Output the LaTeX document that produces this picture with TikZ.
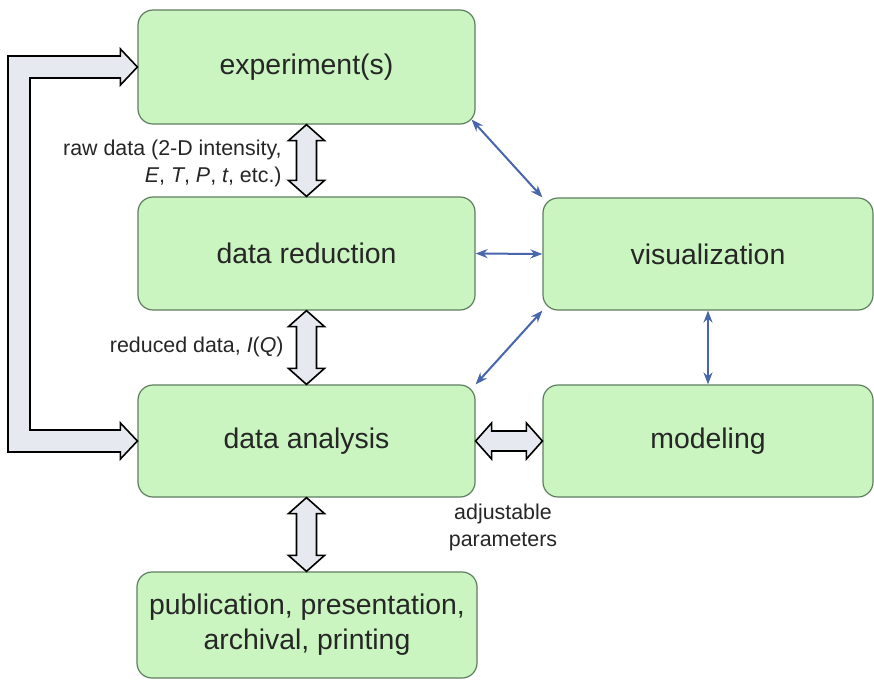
\documentclass[tikz,border=0pt]{standalone}
\usepackage{fontspec}
\setmainfont{Liberation Sans}
\usetikzlibrary{calc,arrows.meta}
\definecolor{boxgreen}{RGB}{202,245,192}
\definecolor{boxline}{RGB}{95,125,95}
\definecolor{linkblue}{RGB}{72,102,172}
\definecolor{blockgray}{RGB}{230,234,240}
\tikzset{
  stage/.style={draw=boxline,fill=boxgreen,rounded corners=7.5pt,line width=0.6pt,
    inner sep=0pt,align=center,text=black!85,font=\fontsize{14.2}{17.5}\selectfont},
  note/.style={font=\fontsize{10.7}{13.5}\selectfont,text=black!85,inner sep=0pt},
  blockarrow/.style={draw=black,fill=blockgray,line width=0.8pt,line join=miter},
  link/.style={draw=linkblue,line width=1pt,{Stealth[length=6pt,width=4.5pt]}-{Stealth[length=6pt,width=4.5pt]}}
}
% vertical double block arrow between two stacked nodes
\newcommand\blockv[2]{%
  \draw[blockarrow] let \p1=(#1.south), \p2=(#2.north) in
    (\x1,\y1) -- (\x1+9pt,\y1-8pt) -- (\x1+5pt,\y1-8pt) -- (\x1+5pt,\y2+8pt)
    -- (\x1+9pt,\y2+8pt) -- (\x1,\y2) -- (\x1-9pt,\y2+8pt) -- (\x1-5pt,\y2+8pt)
    -- (\x1-5pt,\y1-8pt) -- (\x1-9pt,\y1-8pt) -- cycle;}
% horizontal double block arrow between two nodes side by side
\newcommand\blockh[2]{%
  \draw[blockarrow] let \p1=(#1.east), \p2=(#2.west) in
    (\x1,\y1) -- (\x1+8pt,\y1+9pt) -- (\x1+8pt,\y1+5pt) -- (\x2-8pt,\y1+5pt)
    -- (\x2-8pt,\y1+9pt) -- (\x2,\y1) -- (\x2-8pt,\y1-9pt) -- (\x2-8pt,\y1-5pt)
    -- (\x1+8pt,\y1-5pt) -- (\x1+8pt,\y1-9pt) -- cycle;}
\begin{document}
\begin{tikzpicture}[x=0.5pt,y=-0.5pt]
\useasboundingbox[fill=white] (0,0) rectangle (874,682);
\node[stage,minimum width=168.5pt,minimum height=57pt] (exp) at (306.5,67) {experiment(s)};
\node[stage,minimum width=168.5pt,minimum height=56.5pt] (red) at (306.5,253.5) {data reduction};
\node[stage,minimum width=168.5pt,minimum height=56pt] (ana) at (306.5,441) {data analysis};
\node[stage,minimum width=170pt,minimum height=53pt] (pub) at (307,625) {publication, presentation,\\archival, printing};
\node[stage,minimum width=165pt,minimum height=56pt] (vis) at (708,254) {visualization};
\node[stage,minimum width=165pt,minimum height=56pt] (mod) at (708,441) {modeling};
% block arrows
\blockv{exp}{red}
\blockv{red}{ana}
\blockv{ana}{pub}
\blockh{ana}{mod}
% feedback loop from analysis back to experiment
\draw[blockarrow] let \p1=(ana.west), \p2=(exp.west) in
  (\x1,\y1) -- (\x1-8.5pt,\y1+9pt) -- (\x1-8.5pt,\y1+5.5pt) -- (30,\y1+5.5pt)
  -- (30,\y2-5.5pt) -- (\x2-8.5pt,\y2-5.5pt) -- (\x2-8.5pt,\y2-9pt) -- (\x2,\y2)
  -- (\x2-8.5pt,\y2+9pt) -- (\x2-8.5pt,\y2+5.5pt) -- (8,\y2+5.5pt)
  -- (8,\y1-5.5pt) -- (\x1-8.5pt,\y1-5.5pt) -- (\x1-8.5pt,\y1-9pt) -- cycle;
% thin links to visualization
\draw[link] ([shift={(-4,-5)}]exp.south east) -- (vis.north west);
\draw[link] (red.east) -- (vis.west);
\draw[link] (vis.south west) -- (ana.north east);
\draw[link] (vis.south) -- (mod.north);
% labels
\node[note,anchor=east,align=right] (rawlbl) at (282,163) {raw data (2-D intensity,\\\textit{E}, \textit{T}, \textit{P}, \textit{t}, etc.)};
\node[note,anchor=east] (redlbl) at (284,347) {reduced data, \textit{I}(\textit{Q})};
\node[note,align=center] (parlbl) at (503,527) {adjustable\\parameters};
\end{tikzpicture}
\end{document}
